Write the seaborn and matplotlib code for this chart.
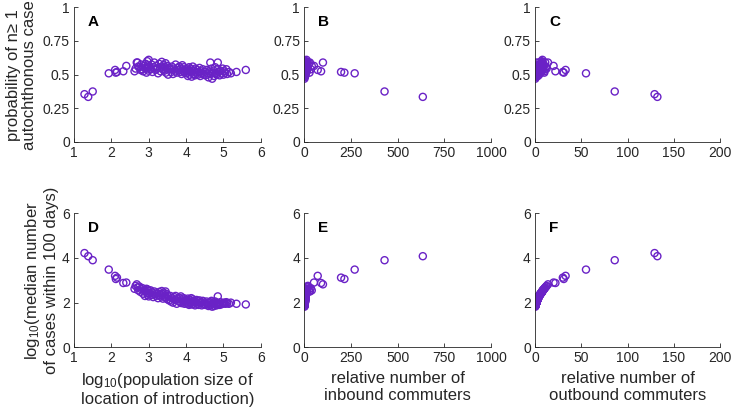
import matplotlib
matplotlib.use("Agg")
import matplotlib.pyplot as plt
import seaborn as sns
import pandas as pd

# ---- data: one row per location of introduction ----
log_pop = [1.28, 1.38, 1.50, 1.93, 2.10, 2.12, 2.15, 2.32, 2.40,
           2.62, 2.65, 2.68, 2.70, 2.72, 2.75, 2.78, 2.80, 2.83, 2.85, 2.88, 2.90, 2.92, 2.94, 2.96, 2.97, 2.98, 2.99, 3.00, 3.00,
           3.02, 3.05, 3.08, 3.10, 3.12, 3.15, 3.18, 3.20, 3.22, 3.25, 3.28, 3.30, 3.32, 3.35, 3.36, 3.38, 3.40, 3.42, 3.44, 3.45, 3.46, 3.48, 3.50, 3.52, 3.55,
           3.58, 3.60, 3.62, 3.65, 3.68, 3.70, 3.72, 3.75, 3.78, 3.80, 3.82, 3.84, 3.86, 3.88, 3.90, 3.92, 3.94, 3.96, 3.98, 4.00,
           4.02, 4.04, 4.05, 4.07, 4.08, 4.10, 4.12, 4.14, 4.15, 4.17, 4.18, 4.20, 4.22, 4.24, 4.25, 4.28, 4.30, 4.32, 4.34, 4.36, 4.38, 4.40, 4.42, 4.45, 4.48,
           4.50, 4.52, 4.55, 4.58, 4.60, 4.62, 4.65, 4.66, 4.68, 4.70, 4.72, 4.74, 4.75, 4.78, 4.80, 4.82, 4.84, 4.85, 4.88, 4.90, 4.92, 4.95, 4.98, 5.00, 5.02, 5.05, 5.08, 5.10, 5.15, 5.20,
           5.35, 5.60]

prob_auto = [0.355, 0.335, 0.375, 0.510, 0.535, 0.515, 0.520, 0.525, 0.565,
             0.525, 0.545, 0.590, 0.590, 0.560, 0.555, 0.535, 0.575, 0.540, 0.525, 0.565, 0.550, 0.580, 0.515, 0.600, 0.545, 0.570, 0.530, 0.610, 0.555,
             0.560, 0.540, 0.575, 0.520, 0.555, 0.590, 0.535, 0.565, 0.545, 0.510, 0.580, 0.550, 0.525, 0.595, 0.560, 0.540, 0.570, 0.530, 0.555, 0.585, 0.515, 0.545, 0.565, 0.500, 0.550,
             0.540, 0.520, 0.560, 0.505, 0.545, 0.530, 0.575, 0.515, 0.550, 0.535, 0.560, 0.520, 0.545, 0.505, 0.570, 0.530, 0.555, 0.515, 0.540, 0.525,
             0.510, 0.545, 0.490, 0.530, 0.555, 0.500, 0.520, 0.540, 0.485, 0.525, 0.560, 0.505, 0.530, 0.495, 0.545, 0.515, 0.535, 0.500, 0.520, 0.550, 0.490, 0.525, 0.510, 0.540, 0.500,
             0.520, 0.495, 0.535, 0.510, 0.480, 0.525, 0.590, 0.505, 0.545, 0.470, 0.515, 0.530, 0.490, 0.555, 0.510, 0.500, 0.540, 0.590, 0.520, 0.495, 0.530, 0.510, 0.545, 0.500, 0.525, 0.515, 0.540, 0.505, 0.520, 0.510,
             0.520, 0.535]

log_median = [4.22, 4.08, 3.90, 3.48, 3.20, 3.06, 3.12, 2.88, 2.90,
              2.62, 2.75, 2.82, 2.68, 2.55, 2.72, 2.48, 2.60, 2.65, 2.40, 2.55, 2.30, 2.50, 2.62, 2.45, 2.35, 2.58, 2.42, 2.52, 2.28,
              2.40, 2.55, 2.35, 2.45, 2.25, 2.50, 2.38, 2.30, 2.42, 2.20, 2.48, 2.35, 2.28, 2.52, 2.40, 2.18, 2.45, 2.25, 2.32, 2.50, 2.22, 2.38, 2.15, 2.30, 2.10,
              2.30, 2.05, 2.20, 2.00, 2.25, 2.12, 2.30, 1.95, 2.18, 2.08, 2.22, 2.02, 2.28, 1.98, 2.15, 2.05, 2.20, 1.95, 2.10, 2.00,
              2.10, 1.95, 2.18, 2.02, 1.90, 2.12, 2.00, 2.20, 1.92, 2.05, 2.15, 1.95, 2.08, 1.88, 2.00, 2.12, 1.95, 2.05, 1.90, 2.10, 1.98, 2.02, 1.88, 2.08, 1.95,
              2.00, 1.90, 2.05, 1.92, 1.85, 1.98, 2.02, 1.88, 2.08, 1.82, 1.95, 2.00, 1.85, 2.05, 1.92, 1.88, 1.98, 2.28, 1.95, 1.90, 2.02, 1.93, 1.97, 1.98, 2.00, 1.95, 2.02, 1.97, 1.95, 2.00,
              1.95, 1.92]

inbound = [1150, 635, 430, 270, 72, 215, 197, 90, 52,
           14, 19, 100, 16, 12, 18, 11, 14, 35, 9, 40, 7, 12, 28, 10, 8, 13, 9, 12, 6,
           9, 12, 8, 10, 6, 30, 9, 7, 10, 5, 12, 8, 6, 13, 9, 5, 11, 6, 7, 25, 5, 9, 4, 7, 4,
           7, 3, 5, 3, 6, 4, 8, 2, 5, 3, 6, 3, 7, 2, 4, 3, 5, 2, 4, 3,
           4, 2, 5, 3, 1, 4, 3, 5, 2, 3, 4, 2, 4, 1, 3, 4, 2, 3, 1, 4, 2, 3, 1, 4, 2,
           3, 2, 3, 2, 1, 2, 3, 1, 4, 1, 2, 3, 1, 3, 2, 1, 2, 6, 2, 1, 3, 2, 2, 2, 3, 2, 3, 2, 2, 3,
           2, 1.5]

outbound = [129, 132, 86, 55, 33, 31, 30, 22, 20,
            10, 12.5, 14, 11, 8.5, 12, 7.5, 9.5, 10.5, 6, 8.5, 4.5, 7.8, 10, 7, 5.2, 9, 6.4, 8, 4.2,
            6, 8.5, 5.2, 7, 3.8, 7.8, 5.8, 4.5, 6.4, 3.3, 7.5, 5.2, 4.2, 8, 6, 3.1, 7, 3.8, 4.8, 7.8, 3.5, 5.8, 2.9, 4.5, 2.5,
            4.5, 1.9, 3.3, 1.5, 3.8, 2.3, 4.5, 1.0, 3.1, 2.0, 3.5, 1.7, 4.2, 1.3, 2.9, 1.9, 3.3, 1.0, 2.2, 1.5,
            2.2, 1.0, 3.1, 1.6, 0.7, 2.4, 1.5, 3.3, 0.8, 1.8, 2.9, 1.0, 2.1, 0.6, 1.5, 2.4, 1.0, 1.8, 0.7, 2.2, 1.3, 1.6, 0.6, 2.1, 1.0,
            1.5, 0.7, 1.8, 0.8, 0.4, 1.3, 1.6, 0.6, 2.0, 0.3, 1.0, 1.5, 0.4, 1.8, 0.8, 0.6, 1.3, 4.2, 1.0, 0.7, 1.6, 0.9, 1.2, 1.3, 1.5, 1.0, 1.6, 1.2, 1.0, 1.5,
            1.0, 0.8]

panel_letters = ["A", "B", "C", "D", "E", "F"]
x_limits = [(1, 6), (0, 1000), (0, 200)]
x_ticks = [[1, 2, 3, 4, 5, 6], [0, 250, 500, 750, 1000], [0, 50, 100, 150, 200]]
y_limits = [(0, 1), (0, 6)]
y_ticks = [[0, 0.25, 0.5, 0.75, 1], [0, 2, 4, 6]]
y_ticklabels = [["0", "0.25", "0.5", "0.75", "1"], ["0", "2", "4", "6"]]

df = pd.DataFrame({
    "log_pop": log_pop, "prob": prob_auto, "logmed": log_median,
    "inbound": inbound, "outbound": outbound,
})

sns.set_theme(style="ticks")
plt.rcParams["font.family"] = ["Liberation Sans", "DejaVu Sans"]
plt.rcParams["mathtext.fontset"] = "custom"
plt.rcParams["mathtext.rm"] = "Liberation Sans"
plt.rcParams["mathtext.it"] = "Liberation Sans"

purple = "#6a22c6"
grey = "#262626"

fig = plt.figure(figsize=(7.33, 4.18), dpi=100)
lefts = [0.101, 0.4151, 0.7299]
widths = [0.2547, 0.2547, 0.2529]
bottoms = [0.6603, 0.1691]
heights = [0.3222, 0.3206]

x_cols = ["log_pop", "inbound", "outbound"]
y_cols = ["prob", "logmed"]
label_fs = 12

for r in range(2):
    for c in range(3):
        ax = fig.add_axes([lefts[c], bottoms[r], widths[c], heights[r]])
        sns.scatterplot(data=df, x=x_cols[c], y=y_cols[r], ax=ax, marker="o",
                        s=26, facecolor="none", edgecolor=purple, linewidth=1.0)
        ax.set_xlim(*x_limits[c])
        ax.set_ylim(*y_limits[r])
        ax.set_xticks(x_ticks[c])
        ax.set_yticks(y_ticks[r])
        ax.set_yticklabels(y_ticklabels[r])
        ax.set_xlabel("")
        ax.set_ylabel("")
        for s in ["top", "right"]:
            ax.spines[s].set_visible(False)
        for s in ["left", "bottom"]:
            ax.spines[s].set_color(grey)
            ax.spines[s].set_linewidth(0.6)
        ax.tick_params(direction="in", length=3, width=0.6, colors=grey,
                       labelsize=10, pad=3)
        ax.text(0.075, 0.89, panel_letters[r * 3 + c], transform=ax.transAxes,
                fontsize=11, fontweight="bold", ha="left", va="center", color="black")
        if c == 0 and r == 0:
            ax.set_ylabel("probability of n\u2265 1\nautochthonous case", fontsize=label_fs,
                          color=grey, linespacing=1.1, labelpad=4)
        if c == 0 and r == 1:
            ax.set_ylabel("log$_{10}$(median number\nof cases within 100 days)", fontsize=label_fs,
                          color=grey, linespacing=1.2, labelpad=2)
        if r == 1:
            xl = ["log$_{10}$(population size of\nlocation of introduction)",
                  "relative number of\ninbound commuters",
                  "relative number of\noutbound commuters"][c]
            ax.set_xlabel(xl, fontsize=label_fs, color=grey, linespacing=1.2, labelpad=4)

fig.savefig("out.png", dpi=100)
